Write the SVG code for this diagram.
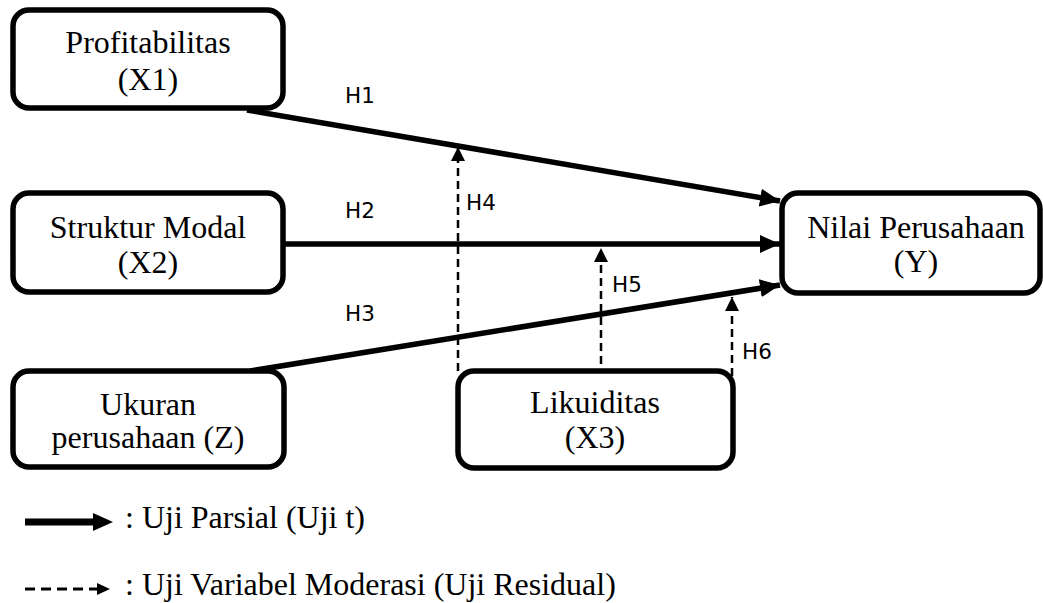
<svg xmlns="http://www.w3.org/2000/svg" width="1043" height="603" viewBox="0 0 1043 603">
<style>
.box{fill:#fff;stroke:#000;stroke-width:5.5}
.t{font-family:"Liberation Serif","Times New Roman",serif;font-size:32px;fill:#000;text-anchor:middle}
.lg{font-family:"Liberation Serif","Times New Roman",serif;font-size:32px;fill:#000}
.h{font-family:"DejaVu Sans",Verdana,sans-serif;font-size:21.5px;fill:#000}
.solid{stroke:#000;stroke-width:5.5;fill:none}
.dash{stroke:#000;stroke-width:2.5;stroke-dasharray:8 5;fill:none}
</style>
<defs>
<marker id="ah" markerUnits="userSpaceOnUse" markerWidth="22" markerHeight="20" refX="20" refY="9" orient="auto">
<path d="M0,0 L20,9 L0,18 z" fill="#000"/>
</marker>
<marker id="ahd" markerUnits="userSpaceOnUse" markerWidth="16" markerHeight="16" refX="14" refY="7" orient="auto">
<path d="M0,0 L14,7 L0,14 z" fill="#000"/>
</marker>
</defs>
<g id="connectors">
<line class="solid" x1="247" y1="110" x2="780" y2="201" marker-end="url(#ah)"/>
<line class="solid" x1="283" y1="244" x2="780" y2="244" marker-end="url(#ah)"/>
<line class="solid" x1="250" y1="371" x2="780" y2="285" marker-end="url(#ah)"/>
<line class="dash" x1="458" y1="371" x2="458" y2="147" marker-end="url(#ahd)"/>
<line class="dash" x1="601" y1="364" x2="601" y2="248" marker-end="url(#ahd)"/>
<line class="dash" x1="732" y1="376" x2="732" y2="297" marker-end="url(#ahd)"/>
<text class="h" x="345" y="103">H1</text>
<text class="h" x="345" y="218">H2</text>
<text class="h" x="345" y="321">H3</text>
<text class="h" x="466" y="210">H4</text>
<text class="h" x="612" y="292">H5</text>
<text class="h" x="742" y="359">H6</text>
</g>
<g id="x1">
<rect class="box" x="13" y="10" width="270" height="98" rx="16"/>
<text class="t" x="148" y="53">Profitabilitas</text>
<text class="t" x="148" y="90">(X1)</text>
</g>
<g id="x2">
<rect class="box" x="13" y="193" width="270" height="99" rx="16"/>
<text class="t" x="148" y="238">Struktur Modal</text>
<text class="t" x="148" y="273">(X2)</text>
</g>
<g id="z">
<rect class="box" x="13" y="371" width="271" height="96" rx="16"/>
<text class="t" x="148" y="415">Ukuran</text>
<text class="t" x="148" y="448">perusahaan (Z)</text>
</g>
<g id="x3">
<rect class="box" x="458" y="371" width="275" height="97" rx="16"/>
<text class="t" x="595" y="413">Likuiditas</text>
<text class="t" x="595" y="448">(X3)</text>
</g>
<g id="y">
<rect class="box" x="782" y="193" width="258" height="100" rx="16"/>
<text class="t" x="916" y="238">Nilai Perusahaan</text>
<text class="t" x="916" y="272">(Y)</text>
</g>
<g id="legend">
<line x1="25" y1="522" x2="96" y2="522" stroke="#000" stroke-width="7"/>
<path d="M93,513 L113,522 L93,531 z" fill="#000"/>
<text class="lg" x="125" y="528">: Uji Parsial (Uji t)</text>
<line x1="25" y1="589" x2="97" y2="589" stroke="#000" stroke-width="3" stroke-dasharray="10 6"/>
<path d="M97,583 L110,589 L97,595 z" fill="#000"/>
<text class="lg" x="125" y="595">: Uji Variabel Moderasi (Uji Residual)</text>
</g>
</svg>
